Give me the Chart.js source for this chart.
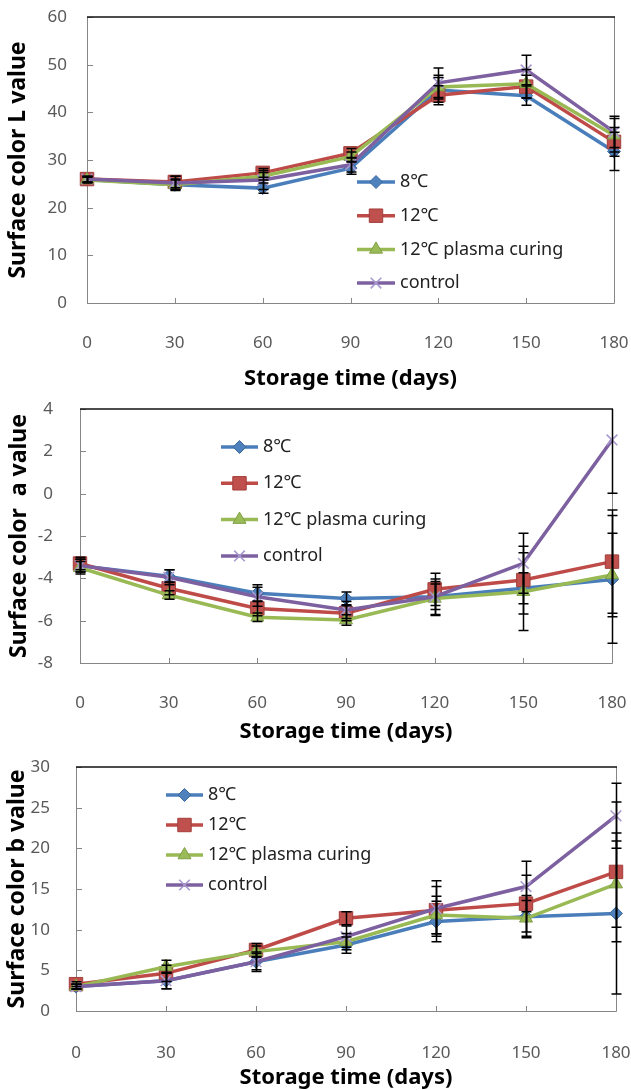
<!DOCTYPE html>
<html>
<head>
<meta charset="utf-8">
<script src="https://cdn.jsdelivr.net/npm/chart.js@4.4.0/dist/chart.umd.min.js"></script>
<style>
    html, body { margin: 0; padding: 0; background: #fff; }
    canvas { position: absolute; left: 0; }
</style>
</head>
<body>
<canvas id="chart-l" width="631" height="395" style="top:0px"></canvas>
<canvas id="chart-a" width="631" height="350" style="top:395px"></canvas>
<canvas id="chart-b" width="631" height="345" style="top:745px"></canvas>
<script>
// Storage days and series names
const days = ['0', '30', '60', '90', '120', '150', '180'];
const seriesNames = ['8\u2103', '12\u2103', '12\u2103 plasma curing', 'control'];

// Surface color L value
const lVal8 = [25.9, 24.8, 24.1, 28.3, 44.7, 43.5, 31.8];
const lVal12 = [26.0, 25.4, 27.3, 31.4, 43.6, 45.4, 33.8];
const lVal12p = [25.8, 24.8, 26.6, 30.7, 45.3, 46.0, 35.2];
const lValCtrl = [26.0, 25.2, 25.8, 29.0, 46.2, 48.9, 35.9];
const lErr8 = [0.6, 1.2, 1.1, 1.3, 2.6, 2.0, 4.0];
const lErr12 = [0.6, 1.2, 0.9, 1.0, 2.0, 2.4, 3.0];
const lErr12p = [0.6, 1.0, 0.8, 1.0, 2.5, 3.0, 3.5];
const lErrCtrl = [0.6, 1.4, 2.0, 1.5, 3.1, 3.1, 3.3];

// Surface color a value
const aVal8 = [-3.4, -3.9, -4.7, -4.95, -4.87, -4.47, -4.05];
const aVal12 = [-3.3, -4.47, -5.42, -5.65, -4.52, -4.08, -3.21];
const aVal12p = [-3.5, -4.79, -5.84, -5.97, -4.95, -4.63, -3.84];
const aValCtrl = [-3.4, -3.95, -4.87, -5.5, -4.87, -3.29, 2.54];
const aErr8 = [0.3, 0.3, 0.4, 0.3, 0.6, 0.73, 3.02];
const aErr12 = [0.3, 0.3, 0.35, 0.35, 0.76, 1.6, 2.44];
const aErr12p = [0.3, 0.2, 0.2, 0.25, 0.8, 1.84, 1.97];
const aErrCtrl = [0.3, 0.35, 0.45, 0.4, 0.84, 1.42, 2.52];

// Surface color b value
const bVal8 = [3.0, 3.73, 6.06, 8.11, 11.0, 11.6, 12.0];
const bVal12 = [3.3, 4.63, 7.5, 11.4, 12.4, 13.2, 17.1];
const bVal12p = [3.0, 5.45, 7.3, 8.52, 11.8, 11.4, 15.6];
const bValCtrl = [3.0, 3.73, 6.06, 9.14, 12.6, 15.3, 24.0];
const bErr8 = [0.3, 1.0, 1.0, 1.0, 2.5, 2.6, 9.9];
const bErr12 = [0.3, 1.0, 0.8, 0.8, 2.9, 3.5, 8.6];
const bErr12p = [0.3, 0.8, 0.7, 1.0, 2.3, 2.2, 5.3];
const bErrCtrl = [0.3, 1.0, 1.2, 1.3, 3.4, 3.1, 4.0];

const fontFamily = '"Noto Sans", "Noto Sans CJK KR", sans-serif';
const lineColors = ['#4A7EBB', '#BE4B48', '#98B954', '#7D60A0'];
const markerFill = ['#4F81BD', '#C0504D', '#9BBB59', '#8064A2'];
const markerEdge = ['#3C6AA0', '#A23E3B', '#7FA045', '#A898CE'];
const markerStyles = ['rectRot', 'rect', 'triangle', 'crossRot'];
const markerSizes = [6.5, 9.5, 7.5, 7.5];

// Excel-like frame, inner tick marks, error bars and in-plot legend
const excelPlugin = {
    id: 'excelLook',
    beforeDatasetsDraw(chart) {
        const ctx = chart.ctx;
        const area = chart.chartArea;
        const xs = chart.scales.x;
        const ys = chart.scales.y;
        ctx.save();
        ctx.lineWidth = 1;
        ctx.strokeStyle = '#868686';
        ctx.beginPath();
        ctx.moveTo(area.left + 0.5, area.top);
        ctx.lineTo(area.left + 0.5, area.bottom + 0.5);
        ctx.lineTo(area.right + 0.5, area.bottom + 0.5);
        ctx.lineTo(area.right + 0.5, area.top);
        for (let i = 0; i < xs.ticks.length; i++) {
            const x = Math.round(xs.getPixelForTick(i)) + 0.5;
            ctx.moveTo(x, area.bottom);
            ctx.lineTo(x, area.bottom - 5);
        }
        for (let i = 0; i < ys.ticks.length; i++) {
            const y = Math.round(ys.getPixelForTick(i)) + 0.5;
            ctx.moveTo(area.left, y);
            ctx.lineTo(area.left + 6, y);
        }
        ctx.stroke();
        ctx.strokeStyle = '#111';
        ctx.lineWidth = 1.5;
        ctx.beginPath();
        ctx.moveTo(area.left, area.top);
        ctx.lineTo(area.right + 1, area.top);
        ctx.stroke();
        ctx.restore();
    },
    afterDatasetsDraw(chart) {
        const ctx = chart.ctx;
        const area = chart.chartArea;
        const xs = chart.scales.x;
        const ys = chart.scales.y;
        ctx.save();
        ctx.beginPath();
        ctx.rect(area.left - 10, area.top, area.right - area.left + 20, area.bottom - area.top + 10);
        ctx.clip();
        ctx.strokeStyle = '#000';
        ctx.lineWidth = 1.5;
        chart.data.datasets.forEach((ds) => {
            ds.errors.forEach((e, i) => {
                const v = ds.data[i];
                const x = Math.round(xs.getPixelForValue(i)) + 0.5;
                const yTop = ys.getPixelForValue(v + e);
                const yBot = ys.getPixelForValue(v - e);
                ctx.beginPath();
                ctx.moveTo(x, yTop);
                ctx.lineTo(x, yBot);
                ctx.moveTo(x - 5, yTop);
                ctx.lineTo(x + 5, yTop);
                ctx.moveTo(x - 5, yBot);
                ctx.lineTo(x + 5, yBot);
                ctx.stroke();
            });
        });
        ctx.restore();
    },
    afterDraw(chart, args, opts) {
        const ctx = chart.ctx;
        ctx.save();
        ctx.font = '18px ' + fontFamily;
        ctx.textBaseline = 'middle';
        ctx.textAlign = 'left';
        chart.data.datasets.forEach((ds, i) => {
            const y = opts.y + i * opts.gap;
            ctx.strokeStyle = ds.borderColor;
            ctx.lineWidth = 3.5;
            ctx.beginPath();
            ctx.moveTo(opts.x1, y);
            ctx.lineTo(opts.x2, y);
            ctx.stroke();
            ctx.fillStyle = ds.pointBackgroundColor;
            ctx.strokeStyle = ds.pointBorderColor;
            ctx.lineWidth = ds.pointBorderWidth;
            Chart.helpers.drawPoint(ctx, {
                pointStyle: ds.pointStyle,
                rotation: 0,
                radius: ds.pointRadius,
                borderWidth: ds.pointBorderWidth
            }, (opts.x1 + opts.x2) / 2, y);
            ctx.fillStyle = '#222';
            ctx.fillText(ds.label, opts.x2 + 5, y);
        });
        ctx.restore();
    }
};

function buildDatasets(values, errors) {
    return values.map((v, i) => ({
        label: seriesNames[i],
        data: v,
        errors: errors[i],
        borderColor: lineColors[i],
        backgroundColor: markerFill[i],
        pointBackgroundColor: markerFill[i],
        pointBorderColor: markerEdge[i],
        pointBorderWidth: i === 3 ? 1.6 : 1,
        pointStyle: markerStyles[i],
        pointRadius: markerSizes[i],
        pointHoverRadius: markerSizes[i],
        borderWidth: 3.5,
        tension: 0,
        clip: false,
        order: 3 - i
    }));
}

function makeChart(id, cfg) {
    const g = cfg.geom;
    return new Chart(document.getElementById(id).getContext('2d'), {
        type: 'line',
        data: {
            labels: days,
            datasets: buildDatasets(cfg.values, cfg.errors)
        },
        options: {
            responsive: false,
            animation: false,
            events: [],
            layout: {
                padding: { left: 0, top: g.top, right: g.right, bottom: 0 }
            },
            scales: {
                x: {
                    type: 'category',
                    offset: false,
                    grid: { display: false, drawTicks: false },
                    border: { display: false },
                    ticks: {
                        color: '#595959',
                        font: { family: fontFamily, size: 17 },
                        padding: g.xTickPad,
                        maxRotation: 0,
                        autoSkip: false
                    },
                    title: {
                        display: true,
                        text: 'Storage time (days)',
                        color: '#000',
                        font: { family: fontFamily, size: 22, weight: 'bold', lineHeight: 1.1 },
                        padding: { top: 0, bottom: g.xTitlePad }
                    },
                    afterFit: (s) => {
                        s.height = g.xHeight;
                        s.paddingLeft = 0;
                        s.paddingRight = 0;
                    }
                },
                y: {
                    min: cfg.yMin,
                    max: cfg.yMax,
                    grid: { display: false, drawTicks: false },
                    border: { display: false },
                    ticks: {
                        stepSize: cfg.yStep,
                        color: '#595959',
                        font: { family: fontFamily, size: 17 },
                        padding: g.yTickPad
                    },
                    title: {
                        display: true,
                        text: cfg.yTitle,
                        color: '#000',
                        font: { family: fontFamily, size: 23, weight: 'bold', lineHeight: 1.2 },
                        padding: { top: g.yTitlePad, bottom: 0 }
                    },
                    afterFit: (s) => {
                        s.width = g.yWidth;
                        s.paddingTop = 0;
                        s.paddingBottom = 0;
                    }
                }
            },
            plugins: {
                legend: { display: false },
                tooltip: { enabled: false },
                excelLook: cfg.legend
            }
        },
        plugins: [excelPlugin]
    });
}

makeChart('chart-l', {
    values: [lVal8, lVal12, lVal12p, lValCtrl],
    errors: [lErr8, lErr12, lErr12p, lErrCtrl],
    yMin: 0, yMax: 60, yStep: 10,
    yTitle: 'Surface color L value',
    geom: { top: 17, right: 17, yWidth: 87, xHeight: 92, xTickPad: 30, xTitlePad: 4, yTickPad: 20, yTitlePad: 5 },
    legend: { x1: 357, x2: 395, y: 182, gap: 33.7 }
});

makeChart('chart-a', {
    values: [aVal8, aVal12, aVal12p, aValCtrl],
    errors: [aErr8, aErr12, aErr12p, aErrCtrl],
    yMin: -8, yMax: 4, yStep: 2,
    yTitle: 'Surface color  a value',
    geom: { top: 14, right: 19, yWidth: 80, xHeight: 82, xTickPad: 30, xTitlePad: 1, yTickPad: 27, yTitlePad: 6 },
    legend: { x1: 221, x2: 258, y: 52, gap: 36.3 }
});

makeChart('chart-b', {
    values: [bVal8, bVal12, bVal12p, bValCtrl],
    errors: [bErr8, bErr12, bErr12p, bErrCtrl],
    yMin: 0, yMax: 30, yStep: 5,
    yTitle: 'Surface color b value',
    geom: { top: 22, right: 15, yWidth: 76, xHeight: 79, xTickPad: 32, xTitlePad: 0, yTickPad: 26, yTitlePad: 4 },
    legend: { x1: 166, x2: 203, y: 50, gap: 30 }
});
</script>
</body>
</html>
